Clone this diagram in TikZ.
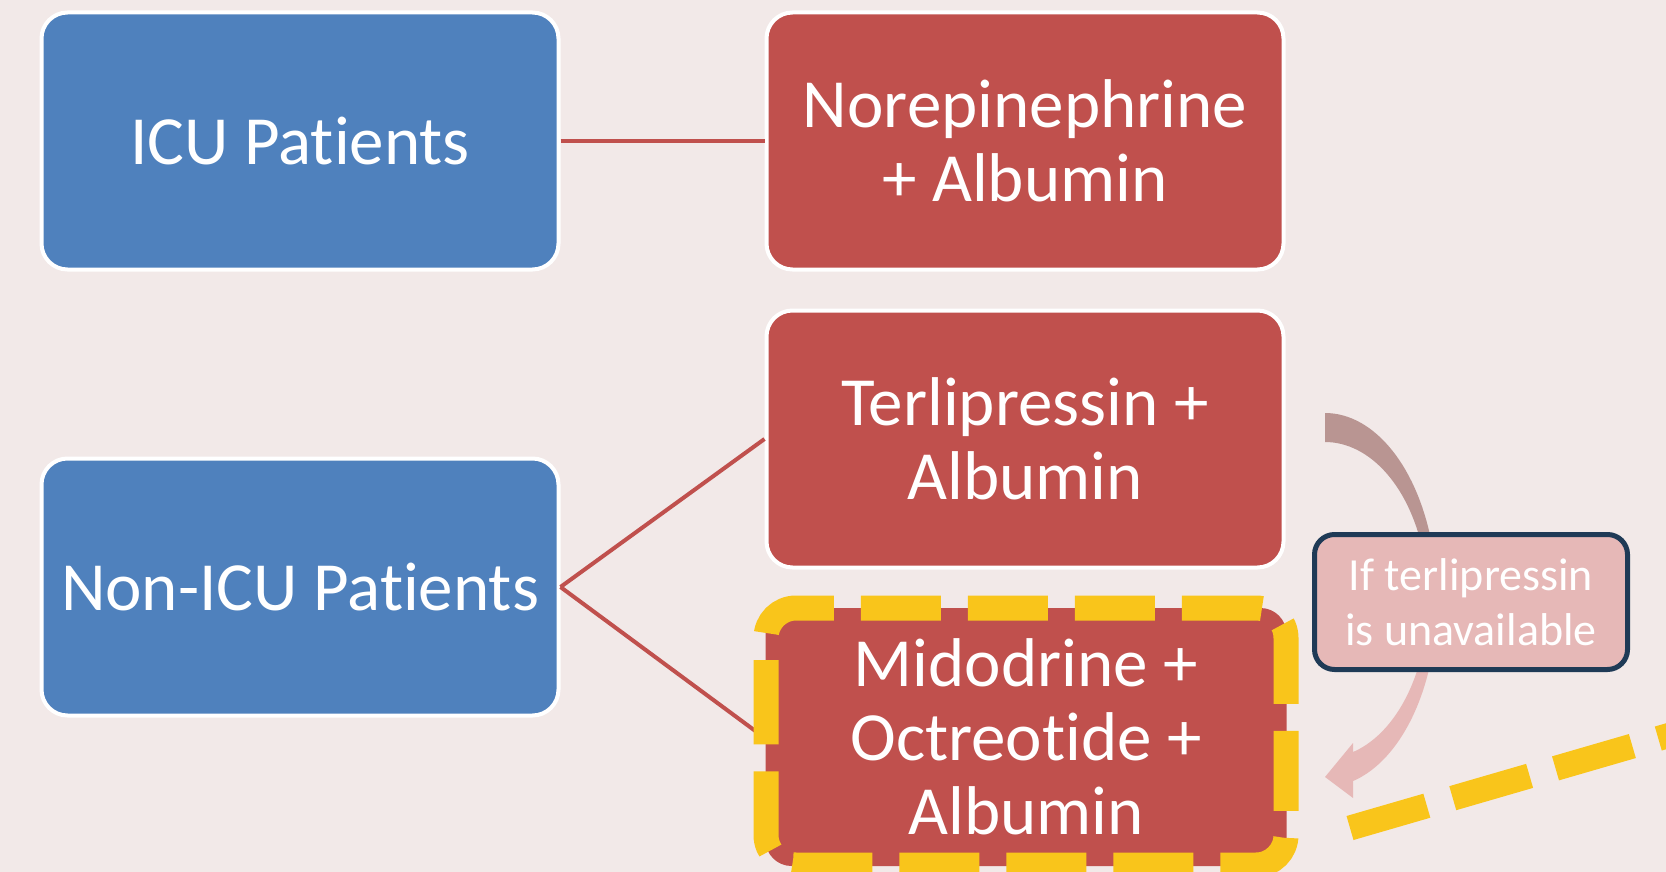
\documentclass[tikz,border=0pt]{standalone}
\usepackage{fontspec}
\setmainfont{Carlito}[Ligatures=NoCommon]
\definecolor{bg}{HTML}{F2E9E8}
\definecolor{boxblue}{HTML}{4F81BD}
\definecolor{boxred}{HTML}{C0504D}
\definecolor{gold}{HTML}{F9C51B}
\definecolor{callfill}{HTML}{E6B8B7}
\definecolor{callline}{HTML}{1F3A56}
\definecolor{arrdark}{HTML}{B99592}
\begin{document}
\begin{tikzpicture}[x=1pt,y=-1pt,
  box/.style={rectangle, rounded corners=26pt, draw=white, line width=4pt,
    minimum width=517pt, minimum height=257pt, text=white, align=center,
    font=\fontsize{69}{74}\selectfont, inner sep=0pt},
  bluebox/.style={box, fill=boxblue},
  redbox/.style={box, fill=boxred},
  link/.style={draw=boxred, line width=4pt},
  golddash/.style={draw=gold, line width=25pt, dash pattern=on 80pt off 27pt},
  callout/.style={rectangle, draw=callline, line width=5pt, fill=callfill,
    rounded corners=20pt, minimum width=313pt, minimum height=135pt,
    text=white, align=center, font=\fontsize{46}{55}\selectfont, inner sep=0pt}
  ]
\useasboundingbox (0,0) rectangle (1666,872);
\clip (0,0) rectangle (1666,872);
\fill[bg] (0,0) rectangle (1666,872);

% boxes
\node[bluebox] (icu) at (300,141) {ICU Patients};
\node[redbox] (nor) at (1025,141) {Norepinephrine\\+ Albumin};
\node[redbox] (ter) at (1025,439) {Terlipressin +\\Albumin};
\node[bluebox] (non) at (300,587) {Non-ICU Patients};
\node[redbox, draw=none, minimum width=521pt, minimum height=258pt] (mid) at (1026,737) {Midodrine +\\Octreotide +\\Albumin};

% connectors
\draw[link] (icu.east) -- (nor.west);
\draw[link] (non.east) -- (ter.west);
\draw[link] (non.east) -- (mid.west);

% yellow dashed highlight around midodrine box
\draw[golddash, rounded corners=30pt] (766,770) -- (766,608) -- (1286,608) -- (1286,865) -- (766,865) -- cycle;

% yellow dashed line leaving the picture
\coordinate (ds) at (1350,828);
\coordinate (de) at (1760,709);
\draw[golddash] (ds) -- (de);

% curved arrow (back part darker, front part lighter)
\fill[arrdark] plot[domain=-90:0, samples=40] ({1325+112*cos(\x)},{600+187*sin(\x)})
  -- plot[domain=0:-90, samples=40] ({1325+103*cos(\x)},{600+158*sin(\x)}) -- cycle;
\fill[callfill] plot[domain=0:75.5, samples=40] ({1325+112*cos(\x)},{600+187*sin(\x)})
  -- (1353,798) -- (1325,777) -- (1353,743)
  -- plot[domain=74.2:0, samples=40] ({1325+103*cos(\x)},{600+158*sin(\x)}) -- cycle;

% callout
\node[callout] (call) at (1471,602) {If terlipressin\\is unavailable};
\end{tikzpicture}
\end{document}
